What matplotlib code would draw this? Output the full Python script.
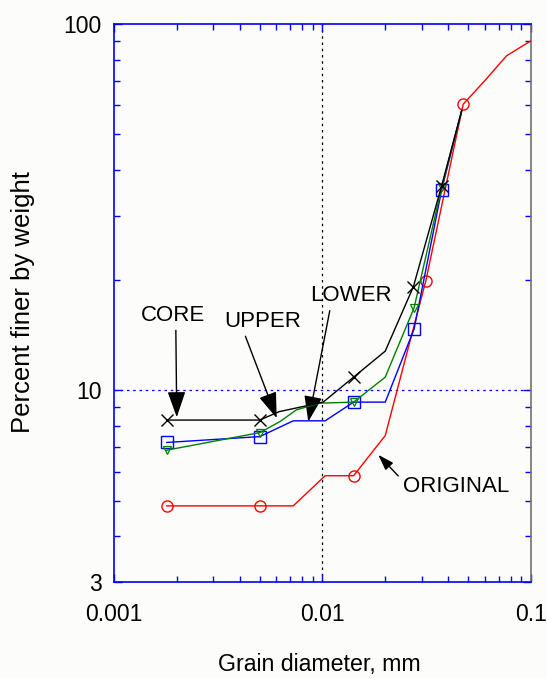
import matplotlib
matplotlib.use('Agg')
import matplotlib.pyplot as plt
from matplotlib.ticker import LogLocator, NullFormatter, FixedLocator, FixedFormatter

plt.rcParams['font.family'] = ['Liberation Sans', 'DejaVu Sans']

# grain diameter (mm) / percent finer
core_x = [0.00179, 0.005, 0.0062, 0.009, 0.0101, 0.0141, 0.020, 0.0273, 0.0373, 0.0465]
core_y = [8.30, 8.30, 8.75, 9.16, 9.30, 10.87, 12.8, 19.2, 36.2, 58.0]
core_marks = [0, 1, 5, 7, 8]

upper_x = [0.00179, 0.005, 0.00625, 0.0075, 0.0097, 0.0141, 0.020, 0.0275, 0.0373, 0.0465]
upper_y = [6.87, 7.67, 8.22, 8.85, 9.23, 9.29, 10.87, 16.8, 35.8, 58.0]
upper_marks = [0, 1, 5, 7, 8]

lower_x = [0.00179, 0.005, 0.00724, 0.0103, 0.0141, 0.020, 0.0275, 0.0373, 0.0465]
lower_y = [7.21, 7.48, 8.26, 8.26, 9.29, 9.29, 14.7, 35.3, 58.0]
lower_marks = [0, 1, 4, 6, 7]

orig_x = [0.00179, 0.005, 0.00724, 0.0103, 0.0141, 0.020, 0.0313, 0.0473, 0.060, 0.0764, 0.100]
orig_y = [4.84, 4.84, 4.84, 5.85, 5.85, 7.53, 19.9, 60.4, 70.0, 81.9, 90.0]
orig_marks = [0, 1, 4, 6, 7]

fig = plt.figure(figsize=(5.47, 6.78), dpi=100)
fig.patch.set_facecolor('#fcfcfa')
ax = fig.add_axes([0.2084, 0.1416, 0.7623, 0.823])
ax.set_facecolor('#fcfcfa')

ax.set_xscale('log')
ax.set_yscale('log')
ax.set_xlim(0.001, 0.1)
ax.set_ylim(3, 100)

# reference lines
ax.axvline(0.01, color='black', lw=0.9, ls=(0, (2, 3)), zorder=1)
ax.axhline(10, color='#0000ff', lw=0.9, ls=(0, (2, 3)), zorder=1)

ax.plot(orig_x, orig_y, color='#ff0000', lw=1.0, marker='o', ms=8, mfc='none',
        mec='#ff0000', mew=1.0, markevery=orig_marks, zorder=3)
ax.plot(lower_x, lower_y, color='#0000ff', lw=1.0, marker='s', ms=8, mfc='none',
        mec='#0000ff', mew=1.0, markevery=lower_marks, zorder=4)
ax.plot(upper_x, upper_y, color='#008000', lw=1.0, marker='v', ms=6, mfc='none',
        mec='#008000', mew=0.9, markevery=upper_marks, zorder=5)
ax.plot(core_x, core_y, color='black', lw=1.0, marker='x', ms=8, mew=1.0,
        markevery=core_marks, zorder=6)

# labels with arrows
big = dict(arrowstyle='-|>,head_length=1.0,head_width=0.35', color='black', lw=1.0,
           shrinkA=1, shrinkB=0)
ax.annotate('CORE', xy=(0.0020, 8.45), xytext=(0.00191, 16.0), fontsize=16,
            ha='center', va='center',
            arrowprops=dict(big, relpos=(0.55, 0.0)))
ax.annotate('UPPER', xy=(0.00603, 8.40), xytext=(0.00519, 15.4), fontsize=16,
            ha='center', va='center',
            arrowprops=dict(big, relpos=(0.25, 0.0)))
ax.annotate('LOWER', xy=(0.00855, 8.22), xytext=(0.0137, 18.1), fontsize=16,
            ha='center', va='center',
            arrowprops=dict(big, relpos=(0.25, 0.0)))
ax.annotate('ORIGINAL', xy=(0.01853, 6.67), xytext=(0.0437, 5.48), fontsize=16,
            ha='center', va='center',
            arrowprops=dict(arrowstyle='-|>,head_length=0.6,head_width=0.2',
                            color='black', lw=1.0, relpos=(0.0, 0.75),
                            shrinkA=2, shrinkB=0))

# ticks
ax.xaxis.set_major_locator(FixedLocator([0.001, 0.01, 0.1]))
ax.xaxis.set_major_formatter(FixedFormatter(['0.001', '0.01', '0.1']))
ax.xaxis.set_minor_locator(LogLocator(base=10, subs=range(2, 10)))
ax.xaxis.set_minor_formatter(NullFormatter())
ax.yaxis.set_major_locator(FixedLocator([3, 10, 100]))
ax.yaxis.set_major_formatter(FixedFormatter(['3', '10', '100']))
ax.yaxis.set_minor_locator(LogLocator(base=10, subs=range(2, 10)))
ax.yaxis.set_minor_formatter(NullFormatter())

ax.tick_params(which='both', direction='in', top=True, right=True,
               color='#0000ff', width=1.0, labelsize=16.5, labelcolor='black')
ax.tick_params(which='major', length=6)
ax.tick_params(which='minor', length=4.5)
ax.tick_params(axis='x', which='major', pad=15)
ax.tick_params(axis='y', which='major', pad=9)

for side in ['left', 'bottom', 'top']:
    ax.spines[side].set_color('#0000ff')
    ax.spines[side].set_linewidth(1.2)
ax.spines['right'].set_color('#707070')
ax.spines['right'].set_linewidth(1.2)

fig.text(0.583, 0.011, 'Grain diameter, mm', fontsize=16.7, ha='center', va='baseline')
fig.text(0.042, 0.555, 'Percent finer by weight', fontsize=18.5, ha='center',
         va='center', rotation=90)

fig.savefig('out.png', dpi=100, facecolor=fig.get_facecolor())
